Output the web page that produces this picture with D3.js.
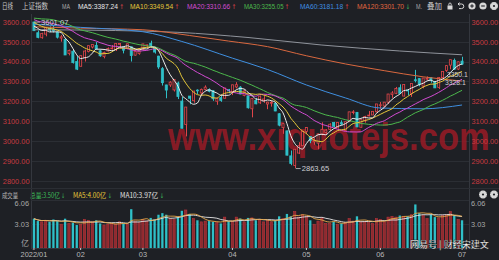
<!DOCTYPE html>
<html>
<head>
<meta charset="utf-8">
<script src="https://cdn.jsdelivr.net/npm/d3@7"></script>
<style>
  html, body { margin: 0; padding: 0; background: #1e2025; }
  svg { display: block; }
</style>
</head>
<body>
<svg id="chart" width="499" height="260"></svg>
<script>
// 上证指数 daily bars, 2022-01-13 .. 2022-07-01
const dates = [
  "01-13","01-14","01-17","01-18","01-19","01-20","01-21","01-24","01-25","01-26","01-27","01-28",
  "02-07","02-08","02-09","02-10","02-11","02-14","02-15","02-16","02-17","02-18","02-21","02-22","02-23","02-24","02-25","02-28",
  "03-01","03-02","03-03","03-04","03-07","03-08","03-09","03-10","03-11","03-14","03-15","03-16","03-17","03-18","03-21","03-22","03-23","03-24","03-25","03-28","03-29","03-30","03-31",
  "04-01","04-06","04-07","04-08","04-11","04-12","04-13","04-14","04-15","04-18","04-19","04-20","04-21","04-22","04-25","04-26","04-27","04-28","04-29",
  "05-05","05-06","05-09","05-10","05-11","05-12","05-13","05-16","05-17","05-18","05-19","05-20","05-23","05-24","05-25","05-26","05-27","05-30","05-31",
  "06-01","06-02","06-06","06-07","06-08","06-09","06-10","06-13","06-14","06-15","06-16","06-17","06-20","06-21","06-22","06-23","06-24","06-27","06-28","06-29","06-30",
  "07-01"
];
const opens = [
  3599,3545,3520,3538,3568,3563,3547,3518,3512,3440,3452,3400,
  3376,3420,3450,3473,3481,3454,3425,3453,3467,3461,3488,3472,3466,3474,3432,3440,
  3461,3479,3492,3470,3427,3364,3282,3282,3257,3292,3201,3083,3226,3203,3256,3242,3259,3259,3253,3200,3218,3215,3258,
  3248,3272,3271,3229,3227,3162,3204,3192,3203,3186,3190,3189,3137,3067,3051,2925,2877,2939,2976,
  3048,3023,2996,2989,3035,3043,3058,3093,3068,3092,3053,3097,3144,3144,3069,3101,3128,3131,3147,
  3180,3176,3195,3234,3240,3268,3226,3256,3240,3308,3314,3276,3311,3319,3300,3269,3319,3355,3382,3406,3362,
  3402
];
const highs = [
  3601.07,3556,3545,3570,3577,3579,3552,3533,3515,3460,3460,3426,
  3430,3459,3480,3486,3498,3459,3450,3471,3483,3491,3492,3477,3490,3475,3459,3463,
  3489,3485,3505,3471,3429,3372,3283,3301,3311,3299,3222,3171,3227,3253,3260,3264,3280,3265,3255,3217,3228,3267,3262,
  3283,3296,3276,3257,3228,3215,3217,3228,3226,3197,3204,3194,3140,3090,3051,2952,2959,2994,3047,
  3070,3024,3014,3036,3094,3059,3089,3096,3094,3104,3097,3147,3155,3146,3107,3127,3151,3149,3186,
  3196,3195,3237,3251,3272,3285,3285,3257,3289,3358,3315,3317,3325,3321,3301,3320,3350,3382,3409,3415,3400,
  3424
];
const lows = [
  3555,3517,3515,3527,3548,3546,3516,3500,3433,3431,3390,3357,
  3376,3400,3446,3466,3461,3424,3416,3451,3461,3453,3471,3441,3462,3400,3430,3434,
  3456,3466,3473,3440,3363,3279,3215,3272,3249,3211,3064,3023,3185,3193,3236,3230,3255,3245,3202,3182,3197,3215,3240,
  3231,3265,3235,3225,3163,3119,3185,3187,3192,3160,3173,3150,3074,3036,2928,2878,2863.65,2934,2976,
  3034,2989,2981,2958,3029,3031,3051,3070,3062,3080,3050,3096,3134,3070,3068,3092,3124,3131,3144,
  3162,3168,3186,3217,3236,3237,3225,3230,3222,3295,3275,3265,3307,3293,3267,3262,3314,3348,3361,3358,3357,
  3383
];
const closes = [
  3555.26,3521.26,3541.67,3569.91,3558.18,3555.06,3522.57,3524.11,3433.06,3455.67,3394.25,3361.44,
  3429.58,3452.63,3479.95,3485.91,3462.95,3428.88,3446.09,3465.83,3468.04,3490.76,3490.61,3457.15,3489.15,3429.96,3451.41,3462.31,
  3488.83,3484.19,3481.11,3447.65,3372.86,3293.53,3256.39,3296.09,3309.75,3223.53,3063.97,3170.71,3215.04,3251.07,3253.69,3259.86,3271.03,3250.26,3212.24,3214.50,3203.94,3266.60,3252.20,
  3282.72,3283.43,3236.70,3251.85,3167.13,3213.33,3186.82,3225.64,3211.24,3195.52,3194.03,3151.05,3079.81,3086.92,2928.51,2886.43,2958.28,2975.48,3047.06,
  3067.76,3001.56,3004.14,3035.84,3058.70,3054.99,3084.28,3073.75,3093.70,3085.98,3096.96,3146.57,3146.86,3070.93,3107.46,3123.11,3130.24,3149.06,3186.43,
  3182.16,3195.46,3236.37,3241.76,3263.79,3238.95,3284.83,3255.55,3288.91,3305.41,3285.38,3316.79,3315.43,3306.72,3267.20,3320.15,3349.75,3379.19,3409.21,3361.52,3398.62,
  3387.64
];
// 成交量 (亿)
const volumes = [
  3.7,3.4,3.3,3.5,3.3,3.6,3.4,3.0,3.7,3.1,3.2,2.9,
  3.0,3.6,3.5,3.3,3.5,3.1,2.9,3.0,3.1,3.0,3.3,3.1,3.0,4.9,3.4,3.2,
  3.6,3.4,3.8,3.6,4.2,4.4,4.2,3.7,3.6,3.9,4.7,4.8,4.3,3.7,3.5,3.3,3.4,3.4,3.3,3.2,3.1,3.9,3.4,
  3.4,3.9,3.7,3.3,3.8,3.8,3.5,3.6,3.3,3.5,3.3,3.5,4.0,3.7,4.3,4.0,4.6,3.9,4.2,
  4.0,3.5,3.0,3.4,3.8,3.1,3.1,3.3,3.0,3.1,3.2,3.7,3.4,4.0,3.3,3.3,3.2,3.1,3.7,
  3.6,3.3,3.9,4.0,3.9,4.1,4.0,4.0,4.2,5.5,4.4,4.1,3.7,4.2,3.9,3.8,4.1,4.2,4.6,4.1,3.6,
  3.5
];
// closes of the 30 sessions before the first bar (2021-12-01 .. 2022-01-12), feeding MA5..MA30
const priorCloses = [
  3576.89,3573.84,3607.43,3589.31,3595.09,3637.57,3673.04,3666.35,3681.08,3661.53,
  3647.63,3675.02,3632.36,3593.60,3625.13,3622.62,3643.34,3618.05,3615.97,3630.11,
  3597.00,3619.19,3639.78,3632.33,3595.18,3586.08,3579.54,3593.52,3567.44,3597.43
];
// long averages, sampled
const ma60Dates  = ["01-13","02-07","03-01","03-15","04-01","04-18","05-05","05-19","06-01","06-17","07-01"];
const ma60Values = [3588,3572,3550,3501,3417,3360,3282,3217,3166,3162,3181.18];
const ma120Dates  = ["01-13","02-07","03-01","03-17","03-31","04-18","05-05","05-19","06-02","06-17","07-01"];
const ma120Values = [3575,3568,3560,3531,3503,3475,3429,3388,3354,3323,3301.70];
const ma250Dates  = ["01-13","02-18","03-14","04-11","05-11","06-09","07-01"];
const ma250Values = [3560,3556,3547,3521,3483,3453,3434];

const priceTicks = [2800,2900,3000,3100,3200,3300,3400,3500,3600];
const volTicks = [3.03, 6.06];
const monthTickDates  = ["01-13","02-07","03-01","04-01","05-05","06-01","07-01"];
const monthTickLabels = ["2022/01","02","03","04","05","06","07"];

const headerItems = [
  {t:"日线", x:2, w:11, c:"#c9c9c9"},
  {t:"上证指数", x:22, w:26, c:"#c9c9c9"},
  {t:"MA", x:62, w:8, c:"#a9a9a9"},
  {t:"MA5:3387.24", x:78, w:45, c:"#e6e6e6", a:"↑", ac:"#e0454a"},
  {t:"MA10:3349.54", x:130, w:48, c:"#e6c83a", a:"↑", ac:"#e0454a"},
  {t:"MA20:3310.66", x:187, w:48, c:"#d24bd2", a:"↑", ac:"#e0454a"},
  {t:"MA30:3255.05", x:244, w:44, c:"#4cb84c", a:"↑", ac:"#e0454a"},
  {t:"MA60:3181.18", x:300, w:48, c:"#3f8fe0", a:"↑", ac:"#e0454a"},
  {t:"MA120:3301.70", x:357, w:52, c:"#e0663f", a:"↓", ac:"#3dbb5a"},
  {t:"M.", x:416, w:6, c:"#a9a9a9"},
  {t:"叠加", x:427, w:15, c:"#c9c9c9"}
];
const volHeaderItems = [
  {t:"成交量", x:2, w:16, c:"#b5b5b5"},
  {t:"总量:3.50亿", x:30, w:34, c:"#3dbb5a", a:"↓", ac:"#3dbb5a"},
  {t:"MA5:4.00亿", x:73, w:38, c:"#e6c83a", a:"↓", ac:"#3dbb5a"},
  {t:"MA10:3.97亿", x:120, w:43, c:"#e0e0e0", a:"↓", ac:"#3dbb5a"}
];

const C = {
  bg: "#1e2025", grid: "#2b2e34", up: "#e0454a", upFill: "#8e2a2f", down: "#2fc0c8",
  ma5: "#ececec", ma10: "#e6c83a", ma20: "#d24bd2", ma30: "#4cb84c", ma60: "#3f8fe0", ma120: "#d9683f", ma250: "#8f939b"
};
const FONT = "'Liberation Sans', Arial, 'Noto Sans CJK SC', sans-serif";
const CJK = "'Noto Sans CJK SC', 'Liberation Sans', sans-serif";

const svg = d3.select("#chart");
svg.append("rect").attr("width", 499).attr("height", 260).attr("fill", C.bg);

// layout
const L = 31, R = 469, mainTop = 14, mainBottom = 187;
const x = d3.scaleBand().domain(dates).range([32, 464]).paddingInner(0.26).paddingOuter(0.13);
const cx = d => x(d) + x.bandwidth() / 2;
const y = d3.scaleLinear().domain([2800, 3600]).range([180.7, 21.8]);
const yv = d3.scaleLinear().domain([0, 6.06]).range([248, 200]);

const bars = dates.map((d, i) => ({d, o: opens[i], h: highs[i], l: lows[i], c: closes[i], v: volumes[i]}));

function movingAvg(series, prior, n) {
  const all = prior.concat(series), off = prior.length;
  return series.map((_, i) => d3.mean(all.slice(Math.max(0, off + i - n + 1), off + i + 1)));
}

// squeeze a text element horizontally to a target width
function fitWidth(sel, w) {
  const node = sel.node();
  const nat = node.getComputedTextLength();
  if (nat > w) {
    const x0 = +sel.attr("x"), y0 = +sel.attr("y");
    sel.attr("x", 0).attr("y", 0).attr("transform", `translate(${x0},${y0}) scale(${w / nat},1)`);
  }
  return sel;
}

// ---------- header ----------
function header(items, yBase, size) {
  items.forEach(it => {
    const t = svg.append("text").attr("x", it.x).attr("y", yBase)
      .attr("font-family", /[\u4e00-\u9fff]/.test(it.t) ? CJK : FONT).attr("font-size", size);
    t.append("tspan").attr("fill", it.c).text(it.t);
    if (it.a) {
      t.append("tspan").attr("dx", 1.5).attr("fill", it.ac).attr("font-family", "'DejaVu Sans', sans-serif")
        .attr("font-size", size - 1).text(it.a);
    }
    fitWidth(t, it.w);
  });
}
header(headerItems, 9, 7.6);
header(volHeaderItems, 198, 7.4);

// toolbar icons
const icons = svg.append("g").attr("fill", "#d8d8d8").attr("stroke", "#d8d8d8");
icons.append("rect").attr("x", 447.5).attr("y", 5.5).attr("width", 5).attr("height", 4).attr("stroke", "none");
icons.append("path").attr("d", "M448.8,5.5 v-1.3 a1.2,1.2 0 0 1 2.4,0 v1.3").attr("fill", "none").attr("stroke-width", 0.9);
icons.append("path").attr("d", "M458,4 h3.5 a2.3,2.3 0 0 1 0,4.6 h-2.5 M458,4 l1.5,-1.4 M458,4 l1.5,1.4").attr("fill", "none").attr("stroke-width", 1);
[[472, "M-1.8,0 h3.6 M0,-1.8 v3.6"], [483, "M-1.8,0 h3.6"]].forEach(([px, d]) => {
  icons.append("circle").attr("cx", px).attr("cy", 6).attr("r", 3.6).attr("stroke", "none");
  icons.append("path").attr("transform", `translate(${px},6)`).attr("d", d).attr("stroke", C.bg).attr("stroke-width", 1.1);
});
// gear icons
function gear(px, py) {
  const g = svg.append("g").attr("transform", `translate(${px},${py})`).attr("fill", "#d8d8d8");
  g.selectAll("rect").data(d3.range(6)).join("rect")
    .attr("x", -0.9).attr("y", -4).attr("width", 1.8).attr("height", 8)
    .attr("transform", d => `rotate(${d * 30})`);
  g.append("circle").attr("r", 2.9);
  g.append("circle").attr("r", 1.1).attr("fill", C.bg);
}
gear(494, 6);
gear(483, 194.5);
gear(494, 194.5);

// ---------- main panel ----------
svg.append("defs").append("clipPath").attr("id", "mainClip")
  .append("rect").attr("x", L).attr("y", mainTop).attr("width", R - L).attr("height", mainBottom - mainTop);

svg.append("g").selectAll("line").data(priceTicks).join("line")
  .attr("x1", L).attr("x2", R).attr("y1", d => Math.round(y(d)) + 0.5).attr("y2", d => Math.round(y(d)) + 0.5)
  .attr("stroke", C.grid).attr("stroke-width", 1);
svg.append("line").attr("x1", L + 0.5).attr("x2", L + 0.5).attr("y1", mainTop).attr("y2", 249).attr("stroke", "#34373e");
svg.append("line").attr("x1", R + 0.5).attr("x2", R + 0.5).attr("y1", mainTop).attr("y2", 249).attr("stroke", "#34373e");
svg.append("line").attr("x1", 0).attr("x2", 499).attr("y1", 188.5).attr("y2", 188.5).attr("stroke", "#2b2e34");

// site watermark
fitWidth(svg.append("text").attr("x", 168).attr("y", 150).attr("fill", "#9a1b25").attr("fill-opacity", 0.85)
  .attr("font-family", FONT).attr("font-weight", "bold").attr("font-size", 38)
  .text("www.xiquotejs.com"), 322);

const axisFont = sel => sel.selectAll("text").attr("font-family", FONT).attr("font-size", 7.4);
svg.append("g").attr("transform", `translate(${L},0)`)
  .call(d3.axisLeft(y).tickValues(priceTicks).tickFormat(d3.format(".2f")).tickSize(0).tickPadding(1.5))
  .call(g => g.select(".domain").remove())
  .call(axisFont)
  .call(g => g.selectAll("text").attr("fill", "#c73a40"));
svg.append("g").attr("transform", `translate(${R},0)`)
  .call(d3.axisRight(y).tickValues(priceTicks).tickFormat(d3.format(".2f")).tickSize(0).tickPadding(2.5))
  .call(g => g.select(".domain").remove())
  .call(axisFont)
  .call(g => g.selectAll("text").attr("fill", "#c73a40"));

const main = svg.append("g").attr("clip-path", "url(#mainClip)");

// candles
const candle = main.append("g").selectAll("g").data(bars).join("g");
candle.append("line")
  .attr("x1", d => Math.round(cx(d.d)) + 0.5).attr("x2", d => Math.round(cx(d.d)) + 0.5)
  .attr("y1", d => y(d.h)).attr("y2", d => y(d.l))
  .attr("stroke", d => d.c >= d.o ? C.up : C.down).attr("stroke-width", 1);
candle.append("rect")
  .attr("x", d => x(d.d) + 0.4).attr("width", x.bandwidth() - 0.8)
  .attr("y", d => y(Math.max(d.o, d.c)))
  .attr("height", d => Math.max(0.8, Math.abs(y(d.o) - y(d.c))))
  .attr("fill", d => d.c >= d.o ? C.bg : C.down)
  .attr("stroke", d => d.c >= d.o ? C.up : C.down).attr("stroke-width", 0.8);

// moving averages
const smooth = d3.line().x(p => cx(p[0])).y(p => y(p[1])).curve(d3.curveMonotoneX);
const maSeries = [
  {n: 30, c: C.ma30}, {n: 20, c: C.ma20}, {n: 10, c: C.ma10}, {n: 5, c: C.ma5}
];
main.append("path").datum(d3.zip(ma250Dates, ma250Values)).attr("d", smooth).attr("fill", "none").attr("stroke", C.ma250).attr("stroke-width", 1);
main.append("path").datum(d3.zip(ma120Dates, ma120Values)).attr("d", smooth).attr("fill", "none").attr("stroke", C.ma120).attr("stroke-width", 1);
main.append("path").datum(d3.zip(ma60Dates, ma60Values)).attr("d", smooth).attr("fill", "none").attr("stroke", C.ma60).attr("stroke-width", 1);
maSeries.forEach(s => {
  const vals = movingAvg(closes, priorCloses, s.n);
  main.append("path").datum(d3.zip(dates, vals)).attr("d", smooth)
    .attr("fill", "none").attr("stroke", s.c).attr("stroke-width", 1);
});

// extreme value markers
const hiIdx = d3.maxIndex(highs), loIdx = d3.minIndex(lows);
const markTxt = (i, v, anchorY) => {
  const px = cx(dates[i]);
  svg.append("line").attr("x1", px + 1).attr("x2", px + 6).attr("y1", anchorY).attr("y2", anchorY).attr("stroke", "#c8c8c8").attr("stroke-width", 0.8);
  svg.append("text").attr("x", px + 7).attr("y", anchorY + 2.8).attr("fill", "#cfcfd4")
    .attr("font-family", FONT).attr("font-size", 7.6).text(d3.format(".2f")(v));
};
markTxt(hiIdx, highs[hiIdx], y(highs[hiIdx]) + 0.5);
markTxt(loIdx, lows[loIdx], y(lows[loIdx]) + 0.5);

// small level tags near the last bars
svg.append("text").attr("x", 447).attr("y", 77).attr("fill", "#d0d0d0").attr("font-family", FONT).attr("font-size", 6.8).text("3350.1");
svg.append("text").attr("x", 445).attr("y", 85).attr("fill", "#d0d0d0").attr("font-family", FONT).attr("font-size", 6.8).text("3328.1");

// ---------- volume panel ----------
svg.append("line").attr("x1", L).attr("x2", R).attr("y1", 200.5).attr("y2", 200.5).attr("stroke", C.grid);
svg.append("line").attr("x1", L).attr("x2", R).attr("y1", Math.round(yv(3.03)) + 0.5).attr("y2", Math.round(yv(3.03)) + 0.5).attr("stroke", C.grid);

svg.append("g").selectAll("rect").data(bars).join("rect")
  .attr("x", d => x(d.d) + 0.3).attr("width", x.bandwidth() - 0.6)
  .attr("y", d => yv(d.v)).attr("height", d => yv(0) - yv(d.v))
  .attr("fill", d => d.c >= d.o ? C.upFill : C.down)
  .attr("stroke", d => d.c >= d.o ? "#b8353b" : "none").attr("stroke-width", 0.6);

const vLine = d3.line().x(p => cx(p[0])).y(p => yv(p[1])).curve(d3.curveMonotoneX);
svg.append("path").datum(d3.zip(dates, movingAvg(volumes, [], 10))).attr("d", vLine).attr("fill", "none").attr("stroke", "#e6e6e6").attr("stroke-width", 0.9);
svg.append("path").datum(d3.zip(dates, movingAvg(volumes, [], 5))).attr("d", vLine).attr("fill", "none").attr("stroke", "#e8a84a").attr("stroke-width", 0.9);

// volume scale labels (top label kept inside the panel)
const volLabel = (g) => g.call(gg => gg.select(".domain").remove())
  .call(axisFont)
  .call(gg => gg.selectAll("text").attr("fill", "#a9a9a9"))
  .call(gg => gg.selectAll(".tick").filter(d => d === 6.06).select("text").attr("dy", "0.75em"));
svg.append("g").attr("transform", `translate(${L},0)`)
  .call(d3.axisLeft(yv).tickValues(volTicks).tickFormat(d3.format(".2f")).tickSize(0).tickPadding(2)).call(volLabel);
svg.append("g").attr("transform", `translate(${R},0)`)
  .call(d3.axisRight(yv).tickValues(volTicks).tickFormat(d3.format(".2f")).tickSize(0).tickPadding(2)).call(volLabel);
svg.append("text").attr("x", 25).attr("y", 246).attr("text-anchor", "middle").attr("fill", "#a9a9a9")
  .attr("font-family", CJK).attr("font-size", 8).text("亿");

// date axis
svg.append("g").attr("transform", "translate(0,248)")
  .call(d3.axisBottom(x).tickValues(monthTickDates).tickFormat(d => monthTickLabels[monthTickDates.indexOf(d)]).tickSize(2).tickPadding(1.5))
  .call(g => g.select(".domain").attr("stroke", "#34373e"))
  .call(g => g.selectAll(".tick line").attr("stroke", "#cfcfcf"))
  .call(axisFont)
  .call(g => g.selectAll("text").attr("fill", "#b8b8b8"));

// publisher mark
fitWidth(svg.append("text").attr("x", 410).attr("y", 247.5).attr("fill", "#f2f2f2")
  .attr("font-family", CJK).attr("font-size", 9).attr("font-weight", "bold")
  .attr("stroke", "#111").attr("stroke-width", 0.3)
  .text("网易号 | 财经宋建文"), 82);
</script>
</body>
</html>
